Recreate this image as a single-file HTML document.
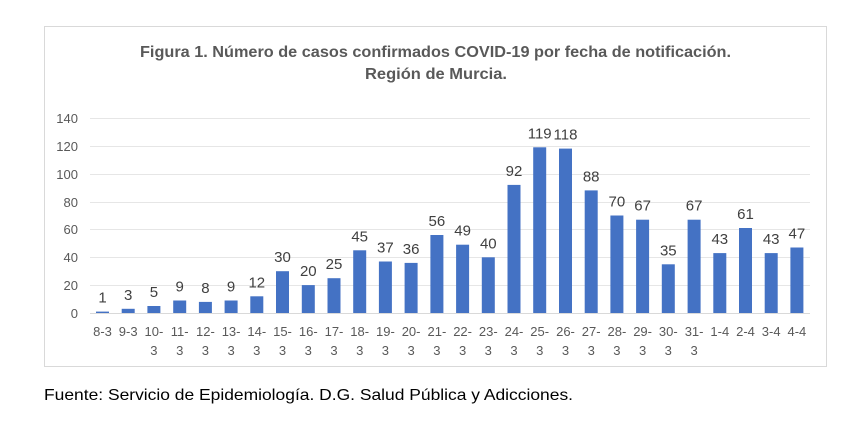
<!DOCTYPE html>
<html><head><meta charset="utf-8"><style>
html,body{margin:0;padding:0;background:#fff;}
svg{display:block;font-family:"Liberation Sans",sans-serif;}
</style></head><body>
<svg width="850" height="426" viewBox="0 0 850 426" xmlns="http://www.w3.org/2000/svg">
<rect x="0" y="0" width="850" height="426" fill="#fff"/>
<rect x="44.5" y="26.5" width="782" height="340" fill="#fff" stroke="#d9d9d9" stroke-width="1"/>
<text x="435.5" y="57" text-anchor="middle" font-size="15.5" font-weight="bold" fill="#595959" textLength="591" lengthAdjust="spacingAndGlyphs">Figura 1. Número de casos confirmados COVID-19 por fecha de notificación.</text>
<text x="436" y="79" text-anchor="middle" font-size="15.5" font-weight="bold" fill="#595959" textLength="142" lengthAdjust="spacingAndGlyphs">Región de Murcia.</text>
<g stroke="#e6e6e6" stroke-width="1">
<line x1="90" y1="118.5" x2="810" y2="118.5"/>
<line x1="90" y1="146.5" x2="810" y2="146.5"/>
<line x1="90" y1="174.5" x2="810" y2="174.5"/>
<line x1="90" y1="202.5" x2="810" y2="202.5"/>
<line x1="90" y1="229.5" x2="810" y2="229.5"/>
<line x1="90" y1="257.5" x2="810" y2="257.5"/>
<line x1="90" y1="285.5" x2="810" y2="285.5"/>
</g>
<line x1="90" y1="313.5" x2="810" y2="313.5" stroke="#d9d9d9" stroke-width="1"/>
<g font-size="13" fill="#595959" text-anchor="end">
<text x="78" y="123">140</text>
<text x="78" y="151">120</text>
<text x="78" y="179">100</text>
<text x="78" y="207">80</text>
<text x="78" y="234">60</text>
<text x="78" y="262">40</text>
<text x="78" y="290">20</text>
<text x="78" y="318">0</text>
</g>
<g fill="#4472c4">
<rect x="96.0" y="311.6" width="13" height="1.4"/>
<rect x="121.7" y="308.8" width="13" height="4.2"/>
<rect x="147.4" y="306.0" width="13" height="7.0"/>
<rect x="173.2" y="300.5" width="13" height="12.5"/>
<rect x="198.9" y="301.9" width="13" height="11.1"/>
<rect x="224.6" y="300.5" width="13" height="12.5"/>
<rect x="250.3" y="296.3" width="13" height="16.7"/>
<rect x="276.0" y="271.2" width="13" height="41.8"/>
<rect x="301.8" y="285.1" width="13" height="27.9"/>
<rect x="327.5" y="278.2" width="13" height="34.8"/>
<rect x="353.2" y="250.3" width="13" height="62.7"/>
<rect x="378.9" y="261.5" width="13" height="51.5"/>
<rect x="404.6" y="262.9" width="13" height="50.1"/>
<rect x="430.4" y="235.0" width="13" height="78.0"/>
<rect x="456.1" y="244.7" width="13" height="68.3"/>
<rect x="481.8" y="257.3" width="13" height="55.7"/>
<rect x="507.5" y="184.9" width="13" height="128.1"/>
<rect x="533.2" y="147.3" width="13" height="165.7"/>
<rect x="559.0" y="148.6" width="13" height="164.4"/>
<rect x="584.7" y="190.4" width="13" height="122.6"/>
<rect x="610.4" y="215.5" width="13" height="97.5"/>
<rect x="636.1" y="219.7" width="13" height="93.3"/>
<rect x="661.8" y="264.3" width="13" height="48.7"/>
<rect x="687.6" y="219.7" width="13" height="93.3"/>
<rect x="713.3" y="253.1" width="13" height="59.9"/>
<rect x="739.0" y="228.0" width="13" height="85.0"/>
<rect x="764.7" y="253.1" width="13" height="59.9"/>
<rect x="790.4" y="247.5" width="13" height="65.5"/>
</g>
<g font-size="15" fill="#404040" text-anchor="middle">
<text x="102.5" y="302.6">1</text>
<text x="128.2" y="299.8">3</text>
<text x="153.9" y="297.0">5</text>
<text x="179.7" y="291.5">9</text>
<text x="205.4" y="292.9">8</text>
<text x="231.1" y="291.5">9</text>
<text x="256.8" y="287.3">12</text>
<text x="282.5" y="262.2">30</text>
<text x="308.3" y="276.1">20</text>
<text x="334.0" y="269.2">25</text>
<text x="359.7" y="241.3">45</text>
<text x="385.4" y="252.5">37</text>
<text x="411.1" y="253.9">36</text>
<text x="436.9" y="226.0">56</text>
<text x="462.6" y="235.7">49</text>
<text x="488.3" y="248.3">40</text>
<text x="514.0" y="175.9">92</text>
<text x="539.7" y="138.3">119</text>
<text x="565.5" y="139.6">118</text>
<text x="591.2" y="181.4">88</text>
<text x="616.9" y="206.5">70</text>
<text x="642.6" y="210.7">67</text>
<text x="668.3" y="255.3">35</text>
<text x="694.1" y="210.7">67</text>
<text x="719.8" y="244.1">43</text>
<text x="745.5" y="219.0">61</text>
<text x="771.2" y="244.1">43</text>
<text x="796.9" y="238.5">47</text>
</g>
<g font-size="13" fill="#595959" text-anchor="middle">
<text x="102.5" y="336">8-3</text>
<text x="128.2" y="336">9-3</text>
<text x="153.9" y="336">10-</text>
<text x="179.7" y="336">11-</text>
<text x="205.4" y="336">12-</text>
<text x="231.1" y="336">13-</text>
<text x="256.8" y="336">14-</text>
<text x="282.5" y="336">15-</text>
<text x="308.3" y="336">16-</text>
<text x="334.0" y="336">17-</text>
<text x="359.7" y="336">18-</text>
<text x="385.4" y="336">19-</text>
<text x="411.1" y="336">20-</text>
<text x="436.9" y="336">21-</text>
<text x="462.6" y="336">22-</text>
<text x="488.3" y="336">23-</text>
<text x="514.0" y="336">24-</text>
<text x="539.7" y="336">25-</text>
<text x="565.5" y="336">26-</text>
<text x="591.2" y="336">27-</text>
<text x="616.9" y="336">28-</text>
<text x="642.6" y="336">29-</text>
<text x="668.3" y="336">30-</text>
<text x="694.1" y="336">31-</text>
<text x="719.8" y="336">1-4</text>
<text x="745.5" y="336">2-4</text>
<text x="771.2" y="336">3-4</text>
<text x="796.9" y="336">4-4</text>
<text x="153.9" y="355">3</text>
<text x="179.7" y="355">3</text>
<text x="205.4" y="355">3</text>
<text x="231.1" y="355">3</text>
<text x="256.8" y="355">3</text>
<text x="282.5" y="355">3</text>
<text x="308.3" y="355">3</text>
<text x="334.0" y="355">3</text>
<text x="359.7" y="355">3</text>
<text x="385.4" y="355">3</text>
<text x="411.1" y="355">3</text>
<text x="436.9" y="355">3</text>
<text x="462.6" y="355">3</text>
<text x="488.3" y="355">3</text>
<text x="514.0" y="355">3</text>
<text x="539.7" y="355">3</text>
<text x="565.5" y="355">3</text>
<text x="591.2" y="355">3</text>
<text x="616.9" y="355">3</text>
<text x="642.6" y="355">3</text>
<text x="668.3" y="355">3</text>
<text x="694.1" y="355">3</text>
</g>
<text x="44" y="400" font-size="16" fill="#000" textLength="529" lengthAdjust="spacingAndGlyphs">Fuente: Servicio de Epidemiología. D.G. Salud Pública y Adicciones.</text>
</svg>
</body></html>
